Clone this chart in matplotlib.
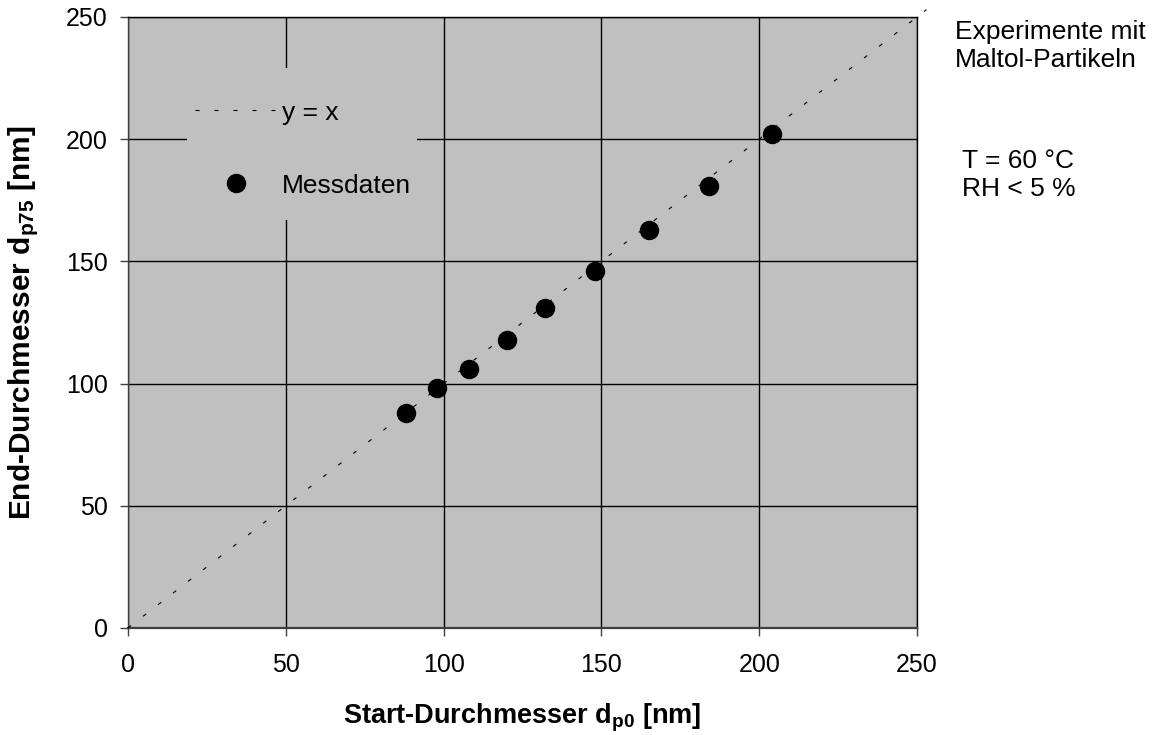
import matplotlib.pyplot as plt
from matplotlib.patches import Rectangle

plt.rcParams['font.family'] = ['Liberation Sans', 'DejaVu Sans']
plt.rcParams['mathtext.fontset'] = 'custom'
plt.rcParams['mathtext.rm'] = 'Liberation Sans'
plt.rcParams['mathtext.bf'] = 'Liberation Sans:bold'

# Messwerte: Start- und End-Durchmesser in nm
d_p0 = [88, 98, 108, 120, 132, 148, 165, 184, 204]
d_p75 = [88, 98, 106, 118, 131, 146, 163, 181, 202]

# Diagonale y = x
diag_x = [0, 253]
diag_y = [0, 253]

ticks = [0, 50, 100, 150, 200, 250]

fig = plt.figure(figsize=(11.59, 7.35), dpi=100)
ax = fig.add_axes([0.1104, 0.1456, 0.6808, 0.8313])
ax.set_facecolor('#c0c0c0')

ax.plot(diag_x, diag_y, color='black', lw=0.8, dashes=(3.6, 13.5),
        clip_on=False, zorder=3, label='y = x')
ax.plot(d_p0, d_p75, 'o', color='black', ms=13, zorder=4, label='Messdaten')

ax.set_xlim(0, 250)
ax.set_ylim(0, 250)
ax.set_xticks(ticks)
ax.set_yticks(ticks)
ax.grid(True, color='black', lw=1.0)
ax.set_axisbelow(True)
ax.tick_params(labelsize=18, length=5.8, width=1.0, color='#404040',
               direction='out')
ax.tick_params(axis='x', pad=12)
ax.tick_params(axis='y', pad=8.6)
for s in ax.spines.values():
    s.set_linewidth(1.0)
ax.spines['left'].set_color('#404040')
ax.spines['bottom'].set_color('#404040')
ax.spines['bottom'].set_linewidth(1.6)

ax.set_xlabel(r'Start-Durchmesser $\mathbf{d_{p0}}$ [nm]', fontsize=19.5,
              fontweight='bold', va='top')
ax.xaxis.set_label_coords(0.5, -0.12)
ax.set_ylabel(r'End-Durchmesser $\mathbf{d_{p75}}$ [nm]', fontsize=21.5,
              fontweight='bold')
ax.yaxis.set_label_coords(-0.11, 0.5)

# grauer Legendenhintergrund verdeckt die Gitterlinien
ax.add_patch(Rectangle((0.0748, 0.668), 0.2915, 0.249, transform=ax.transAxes,
                       facecolor='#c0c0c0', edgecolor='none', zorder=1))
ax.legend(loc='upper left', bbox_to_anchor=(0.085, 0.863), fontsize=19,
          frameon=False, borderpad=0, borderaxespad=0, handlelength=3.1,
          handletextpad=0.2, labelspacing=1.85)

fig.text(0.824, 0.973, 'Experimente mit\nMaltol-Partikeln', fontsize=19,
         va='top', ha='left')
fig.text(0.830, 0.797, 'T = 60 °C\nRH < 5 %', fontsize=19,
         va='top', ha='left')

fig.savefig('out.png', dpi=100)
